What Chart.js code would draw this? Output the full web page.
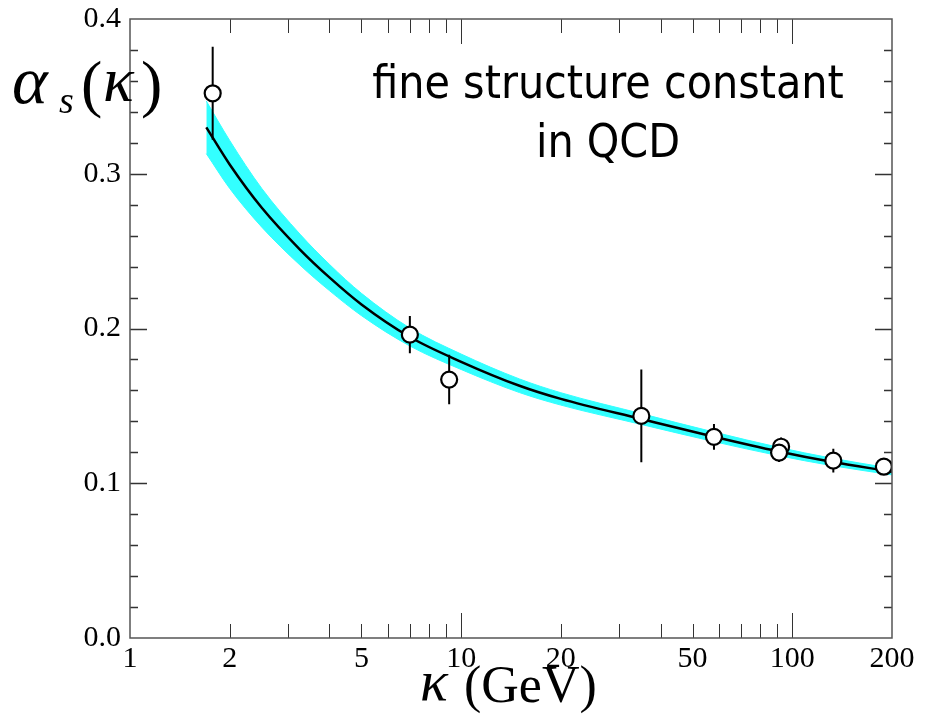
<!DOCTYPE html>
<html><head><meta charset="utf-8">
<script src="https://cdn.jsdelivr.net/npm/chart.js@4/dist/chart.umd.min.js"></script>
<style>html,body{margin:0;padding:0;background:#fff;} canvas{display:block;}</style>
</head><body>
<canvas id="c" width="926" height="719"></canvas>
<script>
// ---- data ----
const xTickLabels = [1, 2, 5, 10, 20, 50, 100, 200];
const yTickValues = [0.0, 0.1, 0.2, 0.3, 0.4];
const xMajorTicks = [10, 100];
const xMinorTicks = [2, 3, 4, 5, 6, 7, 8, 9, 20, 30, 40, 50, 60, 70, 80, 90];
const yMajorTicks = [0.1, 0.2, 0.3];
const yMinorTicks = [0.02, 0.04, 0.06, 0.08, 0.12, 0.14, 0.16, 0.18, 0.22, 0.24, 0.26, 0.28, 0.32, 0.34, 0.36, 0.38];

const curveX   = [1.7, 2, 2.5, 3.26, 4, 5, 7, 10, 15, 20, 35, 58, 91, 130, 200];
const curveY   = [0.330, 0.306, 0.278, 0.251, 0.233, 0.2155, 0.1945, 0.1785, 0.1630, 0.1545, 0.1415, 0.1300, 0.1205, 0.1140, 0.1075];
const bandHigh = [0.347, 0.3215, 0.2905, 0.261, 0.2415, 0.2227, 0.2003, 0.1835, 0.1674, 0.1585, 0.1450, 0.1331, 0.1232, 0.1164, 0.1096];
const bandLow  = [0.313, 0.2905, 0.2655, 0.241, 0.2245, 0.2083, 0.1887, 0.1735, 0.1586, 0.1505, 0.1380, 0.1269, 0.1178, 0.1116, 0.1054];

const pointsX   = [1.777, 7.0, 9.2, 35, 58, 92.5, 91.2, 133, 189];
const pointsY   = [0.352, 0.196, 0.167, 0.1435, 0.130, 0.1236, 0.1198, 0.1146, 0.1107];
const pointsErr = [0.030, 0.012, 0.016, 0.030, 0.0083, 0.006, 0.006, 0.0077, 0.003];

// ---- build datasets ----
const pts = pointsX.map((x, i) => ({x: x, y: pointsY[i]}));
const errData = [];
pointsX.forEach((x, i) => {
  errData.push({x: x, y: pointsY[i] - pointsErr[i]});
  errData.push({x: x, y: pointsY[i] + pointsErr[i]});
  errData.push({x: x, y: null});
});
const toXY = (ys) => curveX.map((x, i) => ({x: x, y: ys[i]}));

const frameTicks = {
  id: 'frameTicks',
  afterDatasetsDraw(chart) {
    const ctx = chart.ctx, a = chart.chartArea, xs = chart.scales.x, ys = chart.scales.y;
    ctx.save();
    ctx.strokeStyle = '#333';
    ctx.lineWidth = 1;
    const vt = (v, len) => {
      const p = Math.round(xs.getPixelForValue(v)) + 0.5;
      ctx.beginPath();
      ctx.moveTo(p, a.bottom); ctx.lineTo(p, a.bottom - len);
      ctx.moveTo(p, a.top); ctx.lineTo(p, a.top + len);
      ctx.stroke();
    };
    const ht = (v, len) => {
      const p = Math.round(ys.getPixelForValue(v)) + 0.5;
      ctx.beginPath();
      ctx.moveTo(a.left, p); ctx.lineTo(a.left + len, p);
      ctx.moveTo(a.right, p); ctx.lineTo(a.right - len, p);
      ctx.stroke();
    };
    xMinorTicks.forEach(v => vt(v, 14));
    xMajorTicks.forEach(v => vt(v, 25));
    ctx.lineWidth = 1.3;
    yMinorTicks.forEach(v => ht(v, 8));
    yMajorTicks.forEach(v => ht(v, 17));
    ctx.strokeStyle = '#555';
    ctx.lineWidth = 1.5;
    ctx.strokeRect(a.left, a.top, a.right - a.left, a.bottom - a.top);
    ctx.restore();
  }
};

const texts = {
  id: 'texts',
  afterDraw(chart) {
    const ctx = chart.ctx;
    ctx.save();
    ctx.fillStyle = '#000';
    ctx.textBaseline = 'alphabetic';
    ctx.textAlign = 'left';
    // y-axis title  alpha_s(kappa)
    ctx.font = 'italic 68px "Liberation Serif"';
    ctx.fillText('\u03B1', 12, 103);
    ctx.font = 'italic 38px "Liberation Serif"';
    ctx.fillText('s', 59, 113);
    ctx.font = '64px "Liberation Serif"';
    ctx.fillText('(', 81, 105);
    ctx.font = 'italic 64px "Liberation Serif"';
    ctx.fillText('\u03BA', 103, 101);
    ctx.font = '64px "Liberation Serif"';
    ctx.fillText(')', 141, 105);
    // x-axis title  kappa (GeV)
    ctx.font = 'italic 58px "Liberation Serif"';
    ctx.fillText('\u03BA', 420, 700);
    ctx.font = '52px "Liberation Serif"';
    ctx.fillText('(GeV)', 464, 702);
    // annotation
    ctx.font = '46px "DejaVu Sans Condensed"';
    const w1 = ctx.measureText('in QCD').width;
    ctx.font = '46px "DejaVu Sans"';
    const w2 = ctx.measureText('in QCD').width;
    ctx.font = Math.abs(w1 - w2) < 1 ? '42px "DejaVu Sans"' : '46px "DejaVu Sans Condensed"';
    ctx.textAlign = 'center';
    ctx.fillText('fine structure constant', 608, 98);
    ctx.fillText('in QCD', 608, 157);
    ctx.restore();
  }
};

new Chart(document.getElementById('c'), {
  type: 'line',
  data: {
    datasets: [
      {label: 'data', data: pts, showLine: false, pointRadius: 8, pointBackgroundColor: '#fff',
       pointBorderColor: '#000', pointBorderWidth: 2.2, order: 0},
      {label: 'errors', data: errData, borderColor: '#000', borderWidth: 2, pointRadius: 0,
       spanGaps: false, fill: false, order: 1},
      {label: 'curve', data: toXY(curveY), borderColor: '#000', borderWidth: 2.5, pointRadius: 0,
       cubicInterpolationMode: 'monotone', fill: false, order: 2},
      {label: 'bandHigh', data: toXY(bandHigh), borderColor: '#33ffff', borderWidth: 1, pointRadius: 0,
       cubicInterpolationMode: 'monotone', backgroundColor: '#33ffff', fill: '+1', order: 3},
      {label: 'bandLow', data: toXY(bandLow), borderColor: '#33ffff', borderWidth: 1, pointRadius: 0,
       cubicInterpolationMode: 'monotone', fill: false, order: 4}
    ]
  },
  options: {
    responsive: false,
    animation: false,
    layout: {padding: {left: 0, top: 19, right: 34, bottom: 0}},
    plugins: {legend: {display: false}, tooltip: {enabled: false}},
    scales: {
      x: {
        type: 'logarithmic', min: 1, max: 200,
        afterBuildTicks: s => { s.ticks = xTickLabels.map(v => ({value: v})); },
        ticks: {autoSkip: false, maxRotation: 0, padding: 3, color: '#000',
                font: {family: 'Liberation Serif', size: 30},
                callback: v => String(v)},
        grid: {display: false, drawTicks: false},
        border: {display: false},
        afterFit: s => { s.height = 81; s.paddingLeft = 0; s.paddingRight = 0; }
      },
      y: {
        type: 'linear', min: 0, max: 0.4,
        afterBuildTicks: s => { s.ticks = yTickValues.map(v => ({value: v})); },
        ticks: {padding: 9, color: '#000', font: {family: 'Liberation Serif', size: 30},
                callback: v => Number(v).toFixed(1)},
        grid: {display: false, drawTicks: false},
        border: {display: false},
        afterFit: s => { s.width = 130; s.paddingTop = 0; s.paddingBottom = 0; }
      }
    }
  },
  plugins: [frameTicks, texts]
});
</script>
</body></html>
